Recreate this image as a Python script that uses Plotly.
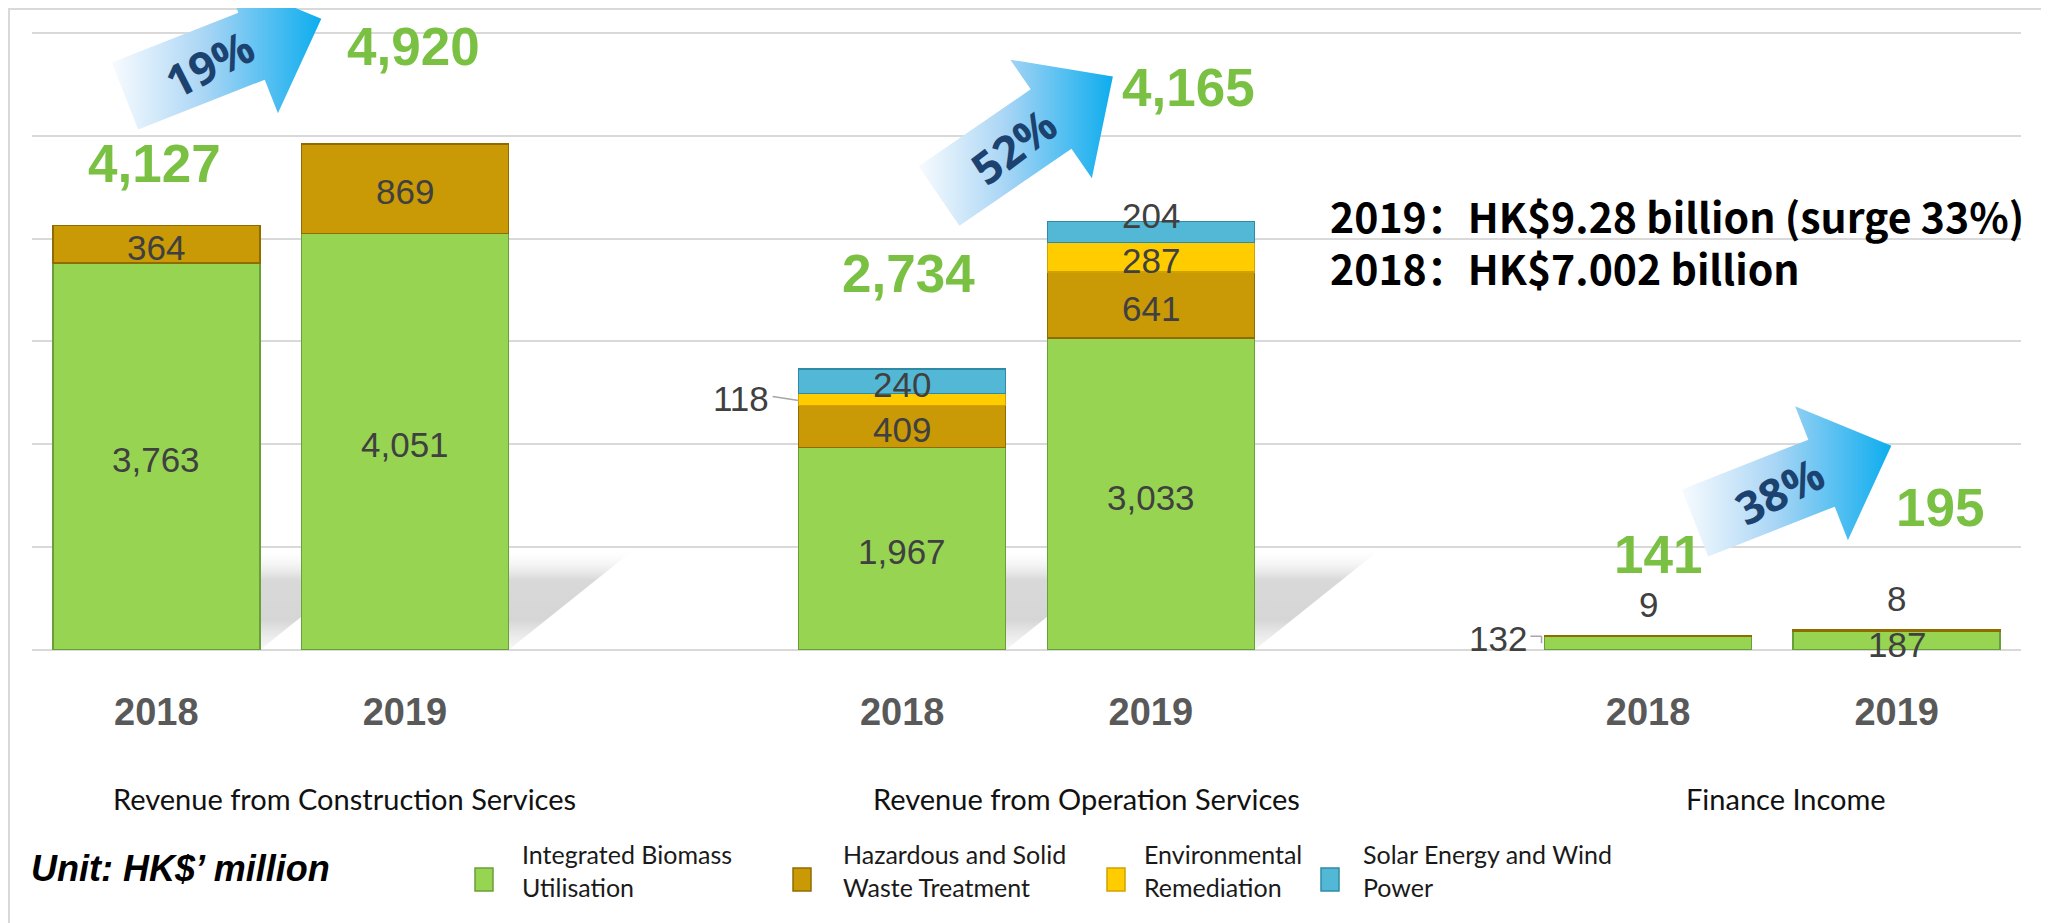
import math
import plotly.graph_objects as go

# ---------------- data ----------------
group_titles = ["Revenue from Construction Services",
                "Revenue from Operation Services",
                "Finance Income"]
years = ["2018", "2019"]
series_names = ["Integrated Biomass Utilisation",
                "Hazardous and Solid Waste Treatment",
                "Environmental Remediation",
                "Solar Energy and Wind Power"]
legend_text = ["Integrated Biomass<br>Utilisation",
               "Hazardous and Solid<br>Waste Treatment",
               "Environmental<br>Remediation",
               "Solar Energy and Wind<br>Power"]
# bar order: Construction 2018, 2019, Operation 2018, 2019, Finance 2018, 2019
biomass = [3763, 4051, 1967, 3033, 132, 187]
hazardous = [364, 869, 409, 641, 9, 8]
environmental = [0, 0, 118, 287, 0, 0]
solar = [0, 0, 240, 204, 0, 0]
unit_text = "Unit: HK$\u2019 million"

series_values = [biomass, hazardous, environmental, solar]
n_bars = len(biomass)
totals = [sum(s[i] for s in series_values) for i in range(n_bars)]
sum18 = sum(totals[0::2])
sum19 = sum(totals[1::2])

# ---------------- style / layout ----------------
W, H = 2049, 923          # page / reference size
OFF = 8                   # default page body margin
FW, FH = W - OFF, H - OFF  # figure size
PLOT_L, PLOT_R, PLOT_B = 32, 2021, 650   # page pixels
N_SLOTS = 8
Y_GRID_MAX = 6000
Y_TOP = 6040
px_unit = (650 - 33) / Y_GRID_MAX
PLOT_T = PLOT_B - Y_TOP * px_unit
BAR_W = 0.833
slots = [3 * (i // 2) + (i % 2) for i in range(n_bars)]
px_slot = (PLOT_R - PLOT_L) / N_SLOTS

colors = ["#96D452", "#C99A06", "#FFCC00", "#53B8D6"]
edge_colors = ["#6A9E38", "#8E6C00", "#D0A200", "#2F8AA6"]
GRID = "#D9D9D9"
LABEL_C = "#404040"

ARIAL = "Liberation Sans, Arial, sans-serif"
HUMAN = "Lato, Open Sans, sans-serif"
CJK = "Noto Sans CJK SC, Noto Sans, sans-serif"

fig = go.Figure()

# soft perspective shadows behind the tall bars (main axes, below bars)
sh_dx = 125 / px_slot
sh_dy = 100 / px_unit
for i in range(n_bars):
    if totals[i] < 1000:
        continue
    x0 = slots[i] - BAR_W / 2
    x1 = slots[i] + BAR_W / 2
    fig.add_trace(go.Scatter(
        x=[x0, x1, x1 + sh_dx, x0 + sh_dx, x0],
        y=[0, 0, sh_dy, sh_dy, 0],
        mode="lines", line=dict(width=0), fill="toself",
        fillgradient=dict(type="vertical", start=0, stop=sh_dy,
                          colorscale=[[0, "rgba(235,235,235,0.4)"],
                                      [0.3, "rgba(200,200,200,0.75)"],
                                      [0.7, "rgba(200,200,200,0.7)"],
                                      [1, "rgba(245,245,245,0)"]]),
        hoverinfo="skip", showlegend=False, xaxis="x", yaxis="y"))

# stacked bars (overlay axes, drawn above shadows)
for k, vals in enumerate(series_values):
    fig.add_trace(go.Bar(
        x=slots, y=[v if v else None for v in vals], width=BAR_W,
        name=series_names[k],
        marker=dict(color=colors[k], line=dict(color=edge_colors[k], width=1.5)),
        hoverinfo="skip", showlegend=False, xaxis="x2", yaxis="y2"))

# decorative growth arrows (page-pixel overlay axes)
def arrow_points(cx, cy, ang, shaft=136, half_w=36, head_half=72, head_len=75):
    a = math.radians(ang)
    d = (math.cos(a), -math.sin(a))
    n = (-math.sin(a), -math.cos(a))
    def p(s, t):
        return (cx + d[0] * s + n[0] * t, cy + d[1] * s + n[1] * t)
    pts = [p(0, half_w), p(shaft, half_w), p(shaft, head_half), p(shaft + head_len, 0),
           p(shaft, -head_half), p(shaft, -half_w), p(0, -half_w), p(0, half_w)]
    return pts, p

arrows = [(125, 96, 21.5, -27), (939, 196, 34.5, -37), (1695, 523, 21.5, -27)]
annotations = []
for g, (cx, cy, ang, tang) in enumerate(arrows):
    pts, p = arrow_points(cx, cy, ang)
    xs = [q[0] for q in pts]
    ys = [q[1] for q in pts]
    fig.add_trace(go.Scatter(
        x=xs, y=ys, mode="lines", line=dict(width=0), fill="toself",
        fillgradient=dict(type="horizontal", start=min(xs), stop=max(xs),
                          colorscale=[[0, "#F8FBFE"], [0.45, "#A8D5F5"], [1, "#0DADEE"]]),
        hoverinfo="skip", showlegend=False, xaxis="x3", yaxis="y3"))
    pct = round((totals[2 * g + 1] / totals[2 * g] - 1) * 100)
    tx, ty = p(90, 0)
    annotations.append(dict(x=tx, y=ty, xref="x3", yref="y3", text=f"{pct}%",
                            showarrow=False, textangle=tang,
                            font=dict(family="Open Sans, Noto Sans, sans-serif", size=45,
                                      color="#1C4270", weight="bold")))

# segment value labels
SEG_ADJ = {
    (2, 2): dict(side="left", dx=-28, dy=1),
    (3, 3): dict(dy=17),
    (0, 4): dict(side="left", dx=-16, dy=5),
    (1, 4): dict(dy=31),
    (1, 5): dict(dy=32),
    (0, 5): dict(dy=-4),
}
SEG_FONT = dict(family=ARIAL, size=35, color=LABEL_C)
shapes = []
for i in range(n_bars):
    base = 0
    for k, vals in enumerate(series_values):
        v = vals[i]
        if not v:
            continue
        mid = base + v / 2
        base += v
        adj = SEG_ADJ.get((k, i), {})
        if adj.get("side") == "left":
            xl = slots[i] - BAR_W / 2
            annotations.append(dict(x=xl, y=mid, xref="x", yref="y", text=f"{v:,}",
                                    showarrow=False, xanchor="right", yanchor="middle",
                                    xshift=adj["dx"], yshift=adj["dy"], font=SEG_FONT))
            if k == 2:
                shapes.append(dict(type="line", xref="x", yref="y", xsizemode="pixel",
                                   ysizemode="pixel", xanchor=xl, yanchor=mid,
                                   x0=adj["dx"] + 2, x1=0, y0=3, y1=-1,
                                   line=dict(color="#A6A6A6", width=1.5)))
            else:
                shapes.append(dict(type="line", xref="x", yref="y", xsizemode="pixel",
                                   ysizemode="pixel", xanchor=xl, yanchor=mid,
                                   x0=adj["dx"] + 2, x1=-3, y0=7, y1=7,
                                   line=dict(color="#A6A6A6", width=1.5)))
                shapes.append(dict(type="line", xref="x", yref="y", xsizemode="pixel",
                                   ysizemode="pixel", xanchor=xl, yanchor=mid,
                                   x0=-3, x1=-3, y0=7, y1=0,
                                   line=dict(color="#A6A6A6", width=1.5)))
        else:
            annotations.append(dict(x=slots[i], y=mid, xref="x", yref="y", text=f"{v:,}",
                                    showarrow=False, yanchor="middle",
                                    yshift=adj.get("dy", -3), font=SEG_FONT))

# totals
TOTAL_OFF = [(-2, 62), (9, 98), (6, 95), (38, 134), (10, 81), (43, 122)]
for i in range(n_bars):
    dx, dy = TOTAL_OFF[i]
    annotations.append(dict(x=slots[i], y=totals[i], xref="x", yref="y",
                            text=f"{totals[i]:,}", showarrow=False, yanchor="middle",
                            xshift=dx, yshift=dy,
                            font=dict(family=ARIAL, size=53, color="#7AC143", weight="bold")))

# group titles
TITLE_POS = [(344, 798), (1086, 798), (1786, 798)]
for g, t in enumerate(group_titles):
    annotations.append(dict(x=TITLE_POS[g][0], y=TITLE_POS[g][1], xref="x3", yref="y3",
                            text=t, showarrow=False,
                            font=dict(family=HUMAN, size=29, color="#111111")))

# summary text
annotations.append(dict(x=1328, y=215, xref="x3", yref="y3", xanchor="left",
                        text=f"2019\uff1aHK${sum19 / 1000:g} billion (surge {round((sum19 / sum18 - 1) * 100)}%)",
                        showarrow=False, font=dict(family=CJK, size=41, color="#000000", weight="bold")))
annotations.append(dict(x=1328, y=267, xref="x3", yref="y3", xanchor="left",
                        text=f"2018\uff1aHK${sum18 / 1000:g} billion",
                        showarrow=False, font=dict(family=CJK, size=41, color="#000000", weight="bold")))

# unit
annotations.append(dict(x=29, y=868, xref="x3", yref="y3", xanchor="left", text=unit_text,
                        showarrow=False,
                        font=dict(family=ARIAL, size=36, color="#000000", weight="bold", style="italic")))

# custom legend
LEG_MARK_X = [475, 793, 1107, 1321]
LEG_TEXT_X = [520, 841, 1142, 1361]
for k in range(len(series_names)):
    shapes.append(dict(type="rect", xref="x3", yref="y3",
                       x0=LEG_MARK_X[k], x1=LEG_MARK_X[k] + 18, y0=868, y1=891,
                       fillcolor=colors[k], line=dict(color=edge_colors[k], width=1.5)))
    annotations.append(dict(x=LEG_TEXT_X[k], y=870, xref="x3", yref="y3", xanchor="left",
                            yanchor="middle", align="left", text=legend_text[k], showarrow=False,
                            font=dict(family=HUMAN, size=25, color="#1A1A1A")))

# outer frame
shapes.append(dict(type="rect", xref="x3", yref="y3",
                   x0=OFF + 1, x1=2044, y0=H + 20, y1=OFF + 1,
                   line=dict(color=GRID, width=2), fillcolor="rgba(0,0,0,0)", layer="below"))

x_dom = [(PLOT_L - OFF) / FW, (PLOT_R - OFF) / FW]
y_dom = [1 - (PLOT_B - OFF) / FH, 1 - (PLOT_T - OFF) / FH]
fig.update_layout(
    template="none",
    width=FW, height=FH,
    margin=dict(l=0, r=0, t=0, b=0),
    paper_bgcolor="white", plot_bgcolor="rgba(0,0,0,0)",
    barmode="stack",
    showlegend=False,
    xaxis=dict(domain=x_dom, range=[-0.5, N_SLOTS - 0.5], tickvals=slots,
               ticktext=[years[i % 2] for i in range(n_bars)],
               tickfont=dict(family=ARIAL, size=38, color="#595959", weight="bold"),
               ticks="", ticklabelstandoff=36, showgrid=False, zeroline=False,
               showline=False, automargin=False, fixedrange=True),
    yaxis=dict(domain=y_dom, range=[0, Y_TOP], dtick=1000, showgrid=True,
               gridcolor=GRID, gridwidth=2, zeroline=True, zerolinecolor=GRID,
               zerolinewidth=2, showticklabels=False, ticks="", showline=False,
               automargin=False, fixedrange=True),
    xaxis2=dict(overlaying="x", range=[-0.5, N_SLOTS - 0.5], visible=False, fixedrange=True),
    yaxis2=dict(overlaying="y", range=[0, Y_TOP], visible=False, fixedrange=True),
    xaxis3=dict(domain=[0, 1], range=[OFF, W], visible=False, anchor="y3", fixedrange=True),
    yaxis3=dict(domain=[0, 1], range=[H, OFF], visible=False, anchor="x3", fixedrange=True),
    annotations=annotations,
    shapes=shapes,
)

fig.write_html("out.html")
